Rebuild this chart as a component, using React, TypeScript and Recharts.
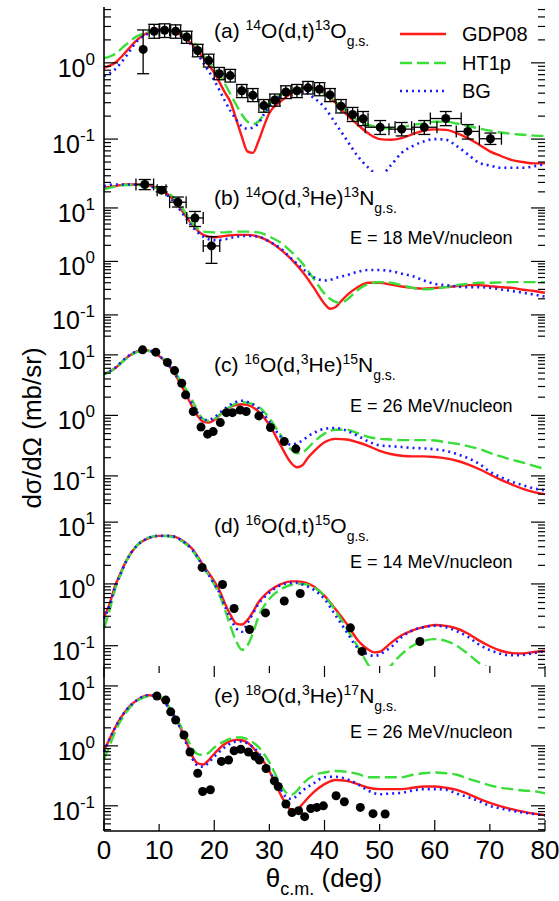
import type { CSSProperties, ReactNode } from "react"
import { ComposedChart, ErrorBar, Line, Scatter, XAxis, YAxis } from "recharts"

const FONT = '"Liberation Sans", Arial, Helvetica, sans-serif'
const RED = "#ff1a1a"
const GREEN = "#3ade3a"
const BLUE = "#1a1aff"

const CHART_W = 559
const PLOT_LEFT = 104
const PLOT_RIGHT = 545
const PAD = 3

const X_TICKS = [0, 10, 20, 30, 40, 50, 60, 70, 80]
const LOG_TICKS = [-2, -1, 0, 1].flatMap((e) => [1, 2, 3, 4, 5, 6, 7, 8, 9].map((m) => m * 10 ** e))

// ---- (a) 14O(d,t)13O ----
const anglesA = [0, 2, 4, 6, 8, 10, 12, 14, 16, 18, 20, 22, 23, 24, 25, 26, 27, 28, 29, 30, 32, 34, 36, 38, 40, 42, 44, 46, 48, 50, 52, 54, 56, 58, 60, 62, 64, 66, 68, 70, 72, 74, 76, 78, 80]
const gdpA = [0.86, 1.0, 1.4, 2.0, 2.5, 2.72, 2.66, 2.31, 1.74, 1.16, 0.74, 0.4, 0.3, 0.18, 0.108, 0.069, 0.066, 0.093, 0.147, 0.22, 0.31, 0.4, 0.47, 0.47, 0.4, 0.3, 0.21, 0.155, 0.118, 0.1, 0.098, 0.103, 0.116, 0.129, 0.134, 0.132, 0.12, 0.103, 0.085, 0.069, 0.06, 0.053, 0.05, 0.048, 0.048]
const ht1pA = [1.15, 1.31, 1.74, 2.24, 2.53, 2.69, 2.66, 2.41, 1.93, 1.31, 0.86, 0.52, 0.38, 0.28, 0.21, 0.17, 0.157, 0.17, 0.21, 0.28, 0.38, 0.43, 0.47, 0.45, 0.39, 0.31, 0.23, 0.177, 0.153, 0.141, 0.138, 0.143, 0.153, 0.16, 0.169, 0.169, 0.16, 0.149, 0.138, 0.129, 0.122, 0.117, 0.114, 0.111, 0.11]
const bgA = [0.67, 0.82, 1.22, 1.93, 2.41, 2.69, 2.61, 2.24, 1.66, 1.0, 0.59, 0.31, 0.23, 0.18, 0.147, 0.137, 0.142, 0.16, 0.21, 0.27, 0.36, 0.42, 0.42, 0.35, 0.26, 0.16, 0.098, 0.06, 0.042, 0.033, 0.045, 0.066, 0.081, 0.093, 0.1, 0.098, 0.081, 0.063, 0.049, 0.045, 0.042, 0.042, 0.042, 0.044, 0.047]
const expAngleA = [7.1, 9.1, 11.0, 13.0, 15.0, 17.0, 19.0, 20.9, 22.9, 25.0, 27.0, 29.0, 31.0, 33.0, 35.0, 37.0, 39.1, 41.0, 43.0, 45.1, 47.0, 50.1, 54.0, 58.1, 62.0, 66.0, 70.1]
const expA = [1.5, 2.6, 2.68, 2.6, 2.18, 1.45, 1.07, 0.72, 0.68, 0.43, 0.375, 0.275, 0.325, 0.415, 0.43, 0.47, 0.45, 0.38, 0.27, 0.21, 0.185, 0.143, 0.135, 0.143, 0.186, 0.126, 0.101]
const expAngleErrA = [0, 0.9, 0.9, 0.9, 0.9, 0.9, 0.9, 0.9, 0.9, 0.9, 0.9, 0.9, 0.9, 0.9, 0.9, 0.9, 0.9, 0.9, 0.9, 0.9, 0.9, 2.7, 2.3, 2.3, 2.8, 2.1, 2.0]
const expLowA = [0.72, 2.1, 2.15, 2.1, 1.8, 1.2, 0.88, 0.6, 0.56, 0.35, 0.31, 0.225, 0.27, 0.34, 0.35, 0.39, 0.37, 0.31, 0.22, 0.17, 0.15, 0.115, 0.11, 0.115, 0.15, 0.1, 0.085]
const expHighA = [2.7, 3.2, 3.25, 3.15, 2.6, 1.75, 1.3, 0.87, 0.82, 0.52, 0.46, 0.33, 0.39, 0.5, 0.52, 0.57, 0.55, 0.46, 0.33, 0.26, 0.23, 0.175, 0.165, 0.175, 0.23, 0.155, 0.12]

// ---- (b) 14O(d,3He)13N ----
const anglesB = [0, 2, 4, 6, 8, 10, 12, 14, 16, 18, 20, 22, 24, 26, 28, 30, 32, 34, 36, 38, 40, 41, 42, 43, 44, 46, 48, 50, 52, 54, 56, 58, 60, 62, 64, 66, 68, 70, 72, 74, 76, 78, 80]
const gdpB = [23.8, 25.6, 27.5, 27.5, 26.4, 22.8, 16.6, 9.3, 4.85, 3.14, 2.84, 3.0, 3.14, 3.14, 2.92, 2.35, 1.68, 1.09, 0.64, 0.33, 0.162, 0.13, 0.14, 0.18, 0.23, 0.33, 0.4, 0.4, 0.37, 0.34, 0.32, 0.31, 0.32, 0.33, 0.345, 0.36, 0.36, 0.345, 0.33, 0.32, 0.295, 0.28, 0.26]
const ht1pB = [22.2, 25, 26.8, 26.8, 25.6, 22.8, 17.9, 10.7, 5.2, 3.6, 3.5, 3.5, 3.6, 3.6, 3.5, 2.92, 2.25, 1.51, 0.92, 0.48, 0.25, 0.2, 0.175, 0.167, 0.19, 0.29, 0.38, 0.41, 0.4, 0.36, 0.32, 0.3, 0.31, 0.33, 0.36, 0.38, 0.4, 0.4, 0.405, 0.41, 0.41, 0.41, 0.41]
const bgB = [25.6, 27.5, 27.5, 27.5, 25.6, 22.2, 15.5, 8.6, 4.5, 2.9, 2.5, 2.6, 2.9, 3.0, 2.9, 2.35, 1.76, 1.13, 0.74, 0.51, 0.44, 0.45, 0.49, 0.52, 0.55, 0.64, 0.69, 0.69, 0.66, 0.59, 0.53, 0.44, 0.38, 0.36, 0.34, 0.33, 0.33, 0.32, 0.3, 0.28, 0.26, 0.24, 0.22]
const expAngleB = [7.4, 10.45, 13.4, 16.5, 19.5]
const expB = [27.5, 21.5, 12.8, 6.5, 1.95]
const expAngleErrB = [1.6, 0.8, 1.5, 1.5, 1.5]
const expLowB = [22, 20, 10.4, 4.5, 0.92]
const expHighB = [34, 25, 16, 8.6, 2.9]

// ---- (c) 16O(d,3He)15N ----
const anglesC = [0, 2, 4, 6, 7, 8, 10, 12, 14, 16, 17, 18, 19, 20, 22, 24, 25, 26, 28, 30, 32, 34, 35, 36, 37, 38, 40, 42, 44, 46, 48, 50, 52, 54, 56, 58, 60, 62, 64, 66, 68, 70, 72, 74, 76, 78, 80]
const gdpC = [4.8, 6.0, 8.8, 11.4, 12, 11.8, 9.6, 6.25, 3.2, 1.4, 0.98, 0.79, 0.76, 0.84, 1.23, 1.49, 1.53, 1.49, 1.16, 0.7, 0.325, 0.162, 0.139, 0.15, 0.2, 0.25, 0.36, 0.41, 0.4, 0.36, 0.31, 0.26, 0.23, 0.215, 0.21, 0.21, 0.205, 0.195, 0.178, 0.155, 0.13, 0.106, 0.086, 0.072, 0.061, 0.054, 0.05]
const ht1pC = [4.7, 6, 8.6, 11.1, 11.6, 11.6, 9.8, 6.6, 3.6, 1.8, 1.16, 0.87, 0.81, 0.875, 1.23, 1.58, 1.65, 1.62, 1.4, 0.9, 0.48, 0.27, 0.237, 0.245, 0.29, 0.36, 0.5, 0.58, 0.58, 0.51, 0.44, 0.41, 0.4, 0.39, 0.39, 0.39, 0.385, 0.36, 0.34, 0.31, 0.28, 0.24, 0.21, 0.185, 0.166, 0.147, 0.13]
const bgC = [4.9, 6.1, 9.0, 11.5, 12, 11.9, 9.7, 6.3, 3.3, 1.55, 1.1, 0.84, 0.84, 0.93, 1.31, 1.68, 1.75, 1.67, 1.31, 0.79, 0.45, 0.325, 0.35, 0.385, 0.45, 0.51, 0.6, 0.62, 0.56, 0.46, 0.37, 0.32, 0.31, 0.3, 0.29, 0.285, 0.275, 0.26, 0.23, 0.197, 0.16, 0.118, 0.095, 0.08, 0.07, 0.062, 0.058]
const expAngleC = [7.0, 9.4, 11.5, 12.8, 14.1, 14.8, 16.2, 17.6, 18.8, 19.8, 21.1, 22.2, 23.3, 24.7, 25.8, 28.1, 30.2, 32.7, 34.8]
const expC = [12.1, 11.1, 7.5, 5.5, 3.4, 2.18, 1.16, 0.64, 0.49, 0.54, 0.76, 1.11, 1.11, 1.23, 1.16, 0.98, 0.63, 0.37, 0.28]

// ---- (d) 16O(d,t)15O ----
const anglesD = [0, 1, 2, 3, 4, 6, 8, 10, 12, 14, 16, 18, 20, 21, 22, 23, 24, 25, 26, 27, 28, 30, 32, 34, 35, 36, 38, 40, 42, 44, 46, 47, 48, 49, 50, 51, 52, 54, 56, 58, 60, 62, 64, 66, 68, 70, 72, 74, 76, 78, 80]
const gdpD = [0.29, 0.47, 0.92, 1.49, 2.34, 4.2, 5.45, 6.0, 6.0, 5.2, 3.7, 2.0, 1.1, 0.77, 0.47, 0.31, 0.228, 0.22, 0.26, 0.35, 0.5, 0.77, 0.98, 1.1, 1.1, 1.08, 0.92, 0.64, 0.39, 0.228, 0.124, 0.1, 0.086, 0.078, 0.08, 0.092, 0.11, 0.148, 0.178, 0.2, 0.216, 0.21, 0.19, 0.158, 0.122, 0.098, 0.083, 0.076, 0.075, 0.079, 0.083]
const ht1pD = [0.19, 0.37, 0.81, 1.4, 2.28, 4.2, 5.6, 6.0, 5.85, 5.0, 3.5, 1.9, 0.98, 0.64, 0.37, 0.2, 0.117, 0.086, 0.1, 0.158, 0.29, 0.57, 0.81, 0.97, 1.0, 1.0, 0.89, 0.64, 0.37, 0.19, 0.098, 0.068, 0.048, 0.036, 0.032, 0.036, 0.047, 0.073, 0.1, 0.12, 0.128, 0.12, 0.1, 0.074, 0.053, 0.042, 0.032, 0.027, 0.025, 0.025, 0.026]
const bgD = [0.27, 0.45, 0.9, 1.45, 2.3, 4.2, 5.5, 6.0, 6.0, 5.1, 3.6, 1.9, 1.0, 0.7, 0.42, 0.27, 0.19, 0.168, 0.23, 0.33, 0.47, 0.72, 0.95, 1.04, 1.04, 0.98, 0.81, 0.57, 0.31, 0.168, 0.092, 0.078, 0.072, 0.068, 0.072, 0.082, 0.094, 0.138, 0.178, 0.2, 0.21, 0.2, 0.172, 0.14, 0.105, 0.085, 0.074, 0.07, 0.071, 0.076, 0.083]
const expAngleD = [17.8, 21.5, 23.6, 26.4, 29.3, 32.7, 35.6, 44.7, 46.8, 57.3]
const expD = [1.85, 0.98, 0.4, 0.183, 0.34, 0.53, 0.7, 0.195, 0.081, 0.117]

// ---- (e) 18O(d,3He)17N ----
const anglesE = [0, 1, 2, 3, 4, 5, 6, 7, 8, 9, 10, 12, 14, 15, 16, 17, 18, 19, 20, 22, 24, 25, 26, 28, 30, 32, 33, 34, 35, 36, 38, 40, 42, 44, 46, 48, 50, 52, 54, 56, 58, 60, 62, 64, 66, 68, 70, 72, 74, 76, 78, 80]
const gdpE = [0.83, 1.3, 2.0, 2.9, 3.9, 4.9, 5.8, 6.6, 7.0, 6.9, 6.4, 4.1, 1.9, 1.14, 0.68, 0.51, 0.49, 0.58, 0.74, 1.09, 1.26, 1.24, 1.14, 0.73, 0.38, 0.156, 0.107, 0.085, 0.085, 0.107, 0.167, 0.23, 0.27, 0.26, 0.23, 0.2, 0.19, 0.19, 0.19, 0.2, 0.21, 0.21, 0.2, 0.185, 0.158, 0.132, 0.112, 0.098, 0.088, 0.08, 0.074, 0.07]
const ht1pE = [0.6, 1.0, 1.7, 2.6, 3.6, 4.7, 5.6, 6.3, 6.7, 6.8, 6.6, 4.2, 2.07, 1.38, 0.91, 0.73, 0.71, 0.77, 0.94, 1.21, 1.38, 1.38, 1.29, 0.96, 0.53, 0.23, 0.167, 0.152, 0.178, 0.23, 0.32, 0.36, 0.38, 0.37, 0.34, 0.3, 0.3, 0.3, 0.3, 0.33, 0.35, 0.36, 0.35, 0.33, 0.285, 0.25, 0.22, 0.2, 0.19, 0.18, 0.175, 0.162]
const bgE = [0.8, 1.3, 2.0, 2.9, 3.9, 4.9, 5.8, 6.6, 7.0, 6.9, 6.4, 4.0, 1.8, 1.05, 0.62, 0.47, 0.45, 0.53, 0.66, 0.96, 1.18, 1.18, 1.1, 0.77, 0.38, 0.19, 0.141, 0.13, 0.147, 0.178, 0.236, 0.3, 0.305, 0.28, 0.23, 0.178, 0.156, 0.16, 0.165, 0.18, 0.19, 0.19, 0.185, 0.16, 0.14, 0.12, 0.1, 0.09, 0.083, 0.077, 0.073, 0.069]
const expAngleE = [9.6, 11.2, 12.1, 13.0, 14.5, 15.6, 17.0, 17.9, 19.3, 21.3, 22.6, 23.6, 24.8, 26.2, 27.4, 28.2, 29.4, 30.9, 31.6, 33.0, 34.1, 35.3, 36.4, 37.5, 38.6, 39.8, 42.1, 43.6, 46.5, 48.8, 51.0]
const expE = [6.8, 5.8, 3.7, 2.7, 1.52, 0.79, 0.35, 0.173, 0.185, 0.55, 0.58, 0.83, 0.88, 0.79, 0.67, 0.58, 0.42, 0.26, 0.21, 0.107, 0.077, 0.083, 0.066, 0.09, 0.094, 0.1, 0.147, 0.117, 0.094, 0.074, 0.073]

const legendNames = ["GDP08", "HT1p", "BG"]

type Point = { x: number; y: number; ex?: number; ey?: [number, number] }

function toPoints(angles: number[], values: number[], angleErr?: number[], low?: number[], high?: number[]): Point[] {
  return angles.map((x, i) => {
    const p: Point = { x, y: values[i] }
    if (angleErr && low && high) {
      p.ex = angleErr[i]
      p.ey = [values[i] - low[i], high[i] - values[i]]
    }
    return p
  })
}

function YTick(props: any) {
  const { x, y, payload } = props
  const v = payload.value
  const e = Math.round(Math.log10(v))
  const major = Math.abs(v / 10 ** e - 1) < 1e-6
  const len = major ? 14 : 7
  const w = PLOT_RIGHT - PLOT_LEFT
  return (
    <g>
      <line x1={x} x2={x + len} y1={y} y2={y} stroke="#000" strokeWidth={1.2} />
      <line x1={x + w - len} x2={x + w} y1={y} y2={y} stroke="#000" strokeWidth={1.2} />
      {major && (
        <text x={x - 9} y={y + 14} textAnchor="end" fontFamily={FONT} fontSize={25} fill="#000">
          10<tspan dy={-12} fontSize={17}>{e}</tspan>
        </text>
      )}
    </g>
  )
}

function XTick(props: any) {
  const { x, y, payload, plotH, showLabel } = props
  const v = payload.value
  const len = v % 20 === 0 ? 11 : 7
  return (
    <g>
      <line x1={x} x2={x} y1={y} y2={y - len} stroke="#000" strokeWidth={1.2} />
      <line x1={x} x2={x} y1={y - plotH} y2={y - plotH + len} stroke="#000" strokeWidth={1.2} />
      {showLabel && (
        <text x={x} y={y + 28} textAnchor="middle" fontFamily={FONT} fontSize={26} fill="#000">
          {v}
        </text>
      )}
    </g>
  )
}

const Marker = (p: any) => <circle cx={p.cx} cy={p.cy} r={4.5} fill="#000" />

type PanelProps = {
  top: number
  height: number
  domain: [number, number]
  angles: number[]
  gdp: number[]
  ht1p: number[]
  bg: number[]
  points: Point[]
  withErrors?: boolean
  showX?: boolean
}

function Panel({ top, height, domain, angles, gdp, ht1p, bg, points, withErrors, showX }: PanelProps) {
  const axisH = showX ? 60 : 0
  const yTicks = LOG_TICKS.filter((t) => t >= domain[0] && t <= domain[1])
  const series = (vals: number[]) => angles.map((x, i) => ({ x, y: vals[i] }))
  const frame = { stroke: "#000", strokeWidth: 1.6 }
  return (
    <div style={{ position: "absolute", left: 0, top: top - PAD }}>
      <ComposedChart
        width={CHART_W}
        height={height + 2 * PAD + axisH}
        margin={{ top: PAD, right: CHART_W - PLOT_RIGHT, bottom: PAD, left: 0 }}
      >
        <XAxis
          type="number"
          dataKey="x"
          domain={[0, 80]}
          ticks={X_TICKS}
          interval={0}
          height={axisH}
          tickSize={0}
          tickMargin={0}
          tickLine={false}
          axisLine={frame}
          tick={(p: any) => <XTick {...p} plotH={height} showLabel={showX} />}
        />
        <XAxis xAxisId="top" orientation="top" type="number" domain={[0, 80]} height={0} tick={false} tickLine={false} axisLine={frame} />
        <YAxis
          type="number"
          scale="log"
          domain={domain}
          allowDataOverflow
          ticks={yTicks}
          interval={0}
          width={PLOT_LEFT}
          tickSize={0}
          tickMargin={0}
          tickLine={false}
          axisLine={frame}
          tick={(p: any) => <YTick {...p} />}
        />
        <YAxis yAxisId="right" orientation="right" type="number" domain={[0, 1]} width={0} tick={false} tickLine={false} axisLine={frame} />
        <Line data={series(gdp)} dataKey="y" name={legendNames[0]} type="monotone" stroke={RED} strokeWidth={2.4} dot={false} isAnimationActive={false} />
        <Line data={series(ht1p)} dataKey="y" name={legendNames[1]} type="monotone" stroke={GREEN} strokeWidth={2.4} strokeDasharray="12 5" dot={false} isAnimationActive={false} />
        <Line data={series(bg)} dataKey="y" name={legendNames[2]} type="monotone" stroke={BLUE} strokeWidth={2.6} strokeDasharray="2 4" dot={false} isAnimationActive={false} />
        <Scatter data={points} dataKey="y" shape={Marker} isAnimationActive={false}>
          {withErrors && <ErrorBar dataKey="ey" direction="y" width={6} stroke="#000" strokeWidth={1.3} />}
          {withErrors && <ErrorBar dataKey="ex" direction="x" width={6} stroke="#000" strokeWidth={1.3} />}
        </Scatter>
      </ComposedChart>
    </div>
  )
}

const sup: CSSProperties = { fontSize: 14, position: "relative", top: -8 }
const sub: CSSProperties = { fontSize: 14, position: "relative", top: 8 }

function Title({ top, children }: { top: number; children: ReactNode }) {
  return (
    <div style={{ position: "absolute", left: 214, top, fontFamily: FONT, fontSize: 21, lineHeight: "26px", whiteSpace: "nowrap" }}>
      {children}
    </div>
  )
}

function Energy({ top, text }: { top: number; text: string }) {
  return (
    <div style={{ position: "absolute", left: 350, top, fontFamily: FONT, fontSize: 18, lineHeight: "22px", whiteSpace: "nowrap" }}>
      {text}
    </div>
  )
}

function LegendBox() {
  const styles = [
    { color: RED, dash: undefined, w: 2.4 },
    { color: GREEN, dash: "12 5", w: 2.4 },
    { color: BLUE, dash: "2 4", w: 2.6 },
  ]
  const rows = [34, 63, 91]
  return (
    <svg style={{ position: "absolute", left: 0, top: 0 }} width={CHART_W} height={110}>
      {legendNames.map((name, i) => (
        <g key={name}>
          <line x1={400} x2={446} y1={rows[i]} y2={rows[i]} stroke={styles[i].color} strokeWidth={styles[i].w} strokeDasharray={styles[i].dash} />
          <text x={462} y={rows[i] + 7} fontFamily={FONT} fontSize={20} fill="#000">
            {name}
          </text>
        </g>
      ))}
    </svg>
  )
}

export default function App() {
  return (
    <div style={{ position: "absolute", left: 0, top: 0, width: 559, height: 901, background: "#fff", fontFamily: FONT }}>
      <Panel top={7} height={165} domain={[0.037, 5.4]} angles={anglesA} gdp={gdpA} ht1p={ht1pA} bg={bgA}
        points={toPoints(expAngleA, expA, expAngleErrA, expLowA, expHighA)} withErrors />
      <Panel top={172} height={166} domain={[0.037, 47]} angles={anglesB} gdp={gdpB} ht1p={ht1pB} bg={bgB}
        points={toPoints(expAngleB, expB, expAngleErrB, expLowB, expHighB)} withErrors />
      <Panel top={338} height={162} domain={[0.04, 19]} angles={anglesC} gdp={gdpC} ht1p={ht1pC} bg={bgC}
        points={toPoints(expAngleC, expC)} />
      <Panel top={500} height={166} domain={[0.047, 22.8]} angles={anglesD} gdp={gdpD} ht1p={ht1pD} bg={bgD}
        points={toPoints(expAngleD, expD)} />
      <Panel top={666} height={165} domain={[0.038, 21.5]} angles={anglesE} gdp={gdpE} ht1p={ht1pE} bg={bgE}
        points={toPoints(expAngleE, expE)} showX />

      <LegendBox />

      <Title top={18}>(a) <span style={sup}>14</span>O(d,t)<span style={sup}>13</span>O<span style={sub}>g.s.</span></Title>
      <Title top={185}>(b) <span style={sup}>14</span>O(d,<span style={sup}>3</span>He)<span style={sup}>13</span>N<span style={sub}>g.s.</span></Title>
      <Title top={352}>(c) <span style={sup}>16</span>O(d,<span style={sup}>3</span>He)<span style={sup}>15</span>N<span style={sub}>g.s.</span></Title>
      <Title top={513}>(d) <span style={sup}>16</span>O(d,t)<span style={sup}>15</span>O<span style={sub}>g.s.</span></Title>
      <Title top={683}>(e) <span style={sup}>18</span>O(d,<span style={sup}>3</span>He)<span style={sup}>17</span>N<span style={sub}>g.s.</span></Title>

      <Energy top={227} text="E = 18 MeV/nucleon" />
      <Energy top={395} text="E = 26 MeV/nucleon" />
      <Energy top={551} text="E = 14 MeV/nucleon" />
      <Energy top={721} text="E = 26 MeV/nucleon" />

      <div style={{ position: "absolute", left: 32, top: 428, transform: "translate(-50%, -50%) rotate(-90deg)", fontSize: 26, whiteSpace: "nowrap" }}>
        dσ/dΩ (mb/sr)
      </div>
      <div style={{ position: "absolute", left: 324, top: 878, transform: "translate(-50%, -50%)", fontSize: 26, whiteSpace: "nowrap" }}>
        θ<span style={{ fontSize: 18, position: "relative", top: 8 }}>c.m.</span> (deg)
      </div>
    </div>
  )
}
